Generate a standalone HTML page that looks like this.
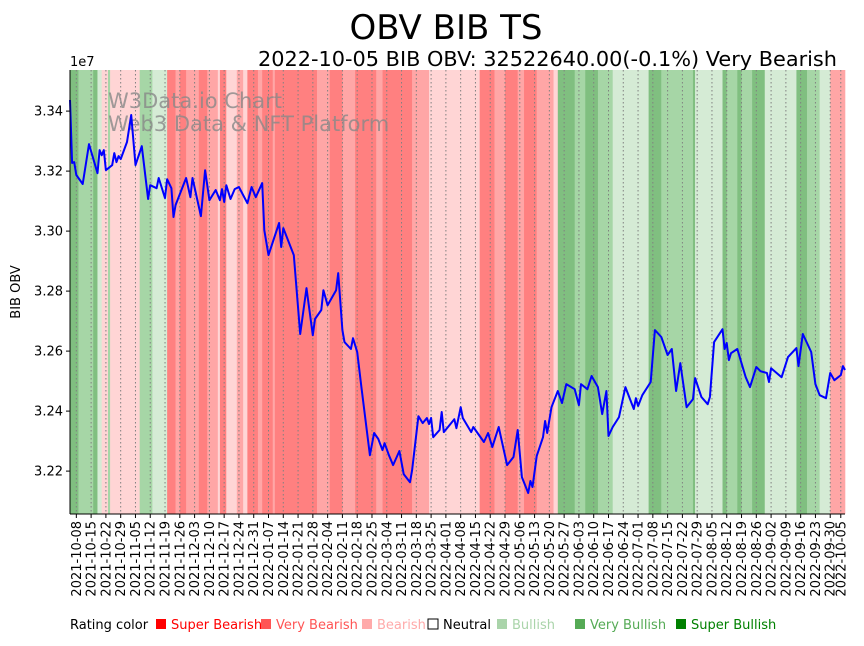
<!DOCTYPE html>
<html><head><meta charset="utf-8">
<style>
body{margin:0;background:#fff;width:864px;height:641px;overflow:hidden;font-family:"Liberation Sans","DejaVu Sans",sans-serif}
svg text{font-family:"DejaVu Sans","Liberation Sans",sans-serif}
</style></head>
<body>
<svg id="chart" width="864" height="641" xmlns="http://www.w3.org/2000/svg">
<text x="446" y="39" font-size="34" text-anchor="middle">OBV BIB TS</text>
<text x="258" y="66" font-size="20" textLength="579" lengthAdjust="spacingAndGlyphs">2022-10-05 BIB OBV: 32522640.00(-0.1%) Very Bearish</text>
<text x="70" y="66" font-size="13">1e7</text>
<text transform="translate(20,292) rotate(-90)" font-size="13" text-anchor="middle">BIB OBV</text>
<g id="bands"></g>
<g id="grid"></g>
<text x="108" y="108" font-size="21" fill="#888" fill-opacity="0.8">W3Data.io Chart</text>
<text x="108" y="131" font-size="21" fill="#888" fill-opacity="0.8">Web3 Data &amp; NFT Platform</text>
<path id="line" fill="none" stroke="#0000ff" stroke-width="2" stroke-linejoin="round"/>
<g id="axes"></g>
<g id="legend">
<text x="70" y="629" font-size="13">Rating color</text>
</g>
</svg>
<script>
const bandStart=[-3,1,8,10,12,15,16,30,36,43,47,49,52,58,62,67,68,71,76,79,81,86,88,93,94,114,120,126,132,142,145,159,167,191,198,203,209,212,218,224,226,228,236,241,247,254,271,277,292,293,306,308,313,315,320,326,341,346,352,357];
const bandRating=['VG','G','VG','LG','LP','G','LP','G','LG','VB','B','VB','B','VB','B','LP','VB','LP','B','LP','VB','B','VB','B','VB','B','VB','B','VB','B','VB','B','LP','VB','B','VB','B','VB','B','B','LP','VG','G','VG','G','LG','VG','G','VG','LG','VG','G','VG','G','VG','LG','VG','G','LG','B'];
const dayIdx=[-3,-2,-1,0,3,6,10,11,12,13,14,17,18,19,20,21,24,26,28,31,34,35,38,39,42,43,45,46,47,52,54,55,59,61,63,66,68,69,70,71,73,75,77,81,83,85,88,89,91,96,97,98,103,106,109,112,113,116,117,119,123,124,126,127,130,131,133,135,139,141,143,145,146,148,150,153,155,158,159,162,164,166,167,168,169,172,173,174,176,179,180,182,183,187,188,193,195,197,200,204,207,209,211,214,215,216,218,221,222,223,225,228,230,232,236,238,239,242,244,247,249,251,252,254,257,260,264,265,266,268,272,274,277,280,282,284,286,289,292,293,296,299,300,302,306,307,308,309,310,313,317,319,322,324,327,328,329,334,337,341,342,344,346,348,350,352,355,357,359,362,363,364];
const obv=[3.3437,3.3227,3.3230,3.3187,3.3157,3.3290,3.3193,3.3270,3.3253,3.3270,3.3203,3.3220,3.3260,3.3230,3.3250,3.3240,3.3297,3.3387,3.3220,3.3283,3.3107,3.3153,3.3143,3.3177,3.3110,3.3173,3.3143,3.3047,3.3087,3.3177,3.3113,3.3177,3.3050,3.3203,3.3103,3.3137,3.3103,3.3140,3.3097,3.3153,3.3107,3.3140,3.3147,3.3093,3.3147,3.3113,3.3160,3.3003,3.2920,3.3027,3.2947,3.3010,3.2920,3.2657,3.2810,3.2653,3.2707,3.2737,3.2803,3.2753,3.2803,3.2860,3.2670,3.2630,3.2607,3.2643,3.2597,3.2480,3.2253,3.2327,3.2307,3.2270,3.2293,3.2253,3.2220,3.2267,3.2190,3.2163,3.2203,3.2383,3.2360,3.2377,3.2357,3.2377,3.2313,3.2337,3.2397,3.2330,3.2347,3.2373,3.2343,3.2413,3.2377,3.2330,3.2347,3.2297,3.2327,3.2280,3.2347,3.2220,3.2247,3.2337,3.2180,3.2127,3.2167,3.2147,3.2250,3.2313,3.2367,3.2327,3.2413,3.2467,3.2427,3.2490,3.2473,3.2420,3.2490,3.2473,3.2517,3.2480,3.2390,3.2467,3.2317,3.2347,3.2380,3.2480,3.2407,3.2443,3.2417,3.2453,3.2497,3.2670,3.2647,3.2587,3.2607,3.2467,3.2560,3.2413,3.2440,3.2510,3.2447,3.2423,3.2447,3.2630,3.2673,3.2607,3.2627,3.2570,3.2593,3.2607,3.2513,3.2480,3.2547,3.2533,3.2527,3.2497,3.2543,3.2513,3.2580,3.2610,3.2550,3.2657,3.2627,3.2597,3.2490,3.2453,3.2443,3.2527,3.2503,3.2520,3.2550,3.2537];
const yTicks=[3.22,3.24,3.26,3.28,3.30,3.32,3.34];
const yTickLabels=['3.22','3.24','3.26','3.28','3.30','3.32','3.34'];
const legendLabels=['Super Bearish','Very Bearish','Bearish','Neutral','Bullish','Very Bullish','Super Bullish'];
const legendColors=['#ff0000','#ff5555','#ffaaaa','#ffffff','#aad4aa','#55aa55','#008000'];

const NS='http://www.w3.org/2000/svg';
const L=70,R=845,T=70,B=514;
const D0=-3,D1=364,V0=3.2057,V1=3.3537;
const xs=d=>L+(d-D0)*(R-L)/(D1-D0);
const ys=v=>B-(v-V0)*(B-T)/(V1-V0);
const bandColor={VB:'#ff8080',B:'#ffa6a6',LP:'#ffd5d5',LG:'#d5ebd5',G:'#a6d6a6',VG:'#80bf80'};
function mk(tag,attrs,parent){const e=document.createElementNS(NS,tag);for(const k in attrs)e.setAttribute(k,attrs[k]);parent.appendChild(e);return e;}

const bands=document.getElementById('bands');
for(let i=0;i<bandStart.length;i++){
  const x0=xs(bandStart[i]),x1=xs(i+1<bandStart.length?bandStart[i+1]:D1);
  const r=mk('rect',{x:x0,y:T,width:x1-x0+0.3,height:B-T,fill:bandColor[bandRating[i]]},bands);
  
  
}
const grid=document.getElementById('grid'),axes=document.getElementById('axes');
const base=new Date(Date.UTC(2021,9,8));
const tickDays=[];for(let d=0;d<=357;d+=7)tickDays.push(d);tickDays.push(362);
function fmt(d){const t=new Date(base.getTime()+d*86400000);return t.toISOString().slice(0,10);}
tickDays.forEach(d=>{
  const x=xs(d);
  const g=mk('line',{x1:x,x2:x,y1:T,y2:B,stroke:'#808080','stroke-width':1,'stroke-dasharray':'1.5,2.5'},grid);
  
  
  mk('line',{x1:x,x2:x,y1:B,y2:B+4,stroke:'#000'},axes);
  const t=mk('text',{transform:`translate(${x+4.5},${B+7}) rotate(-90)`,'font-size':13,'text-anchor':'end'},axes);
  t.textContent=fmt(d);
  
  
});
yTicks.forEach((v,i)=>{
  const y=ys(v);
  mk('line',{x1:L-4,x2:L,y1:y,y2:y,stroke:'#000'},axes);
  const t=mk('text',{x:L-7,y:y+4.5,'font-size':13,'text-anchor':'end'},axes);
  t.textContent=yTickLabels[i];
  
  
});
mk('line',{x1:L,x2:L,y1:T,y2:B,stroke:'#000'},axes);
mk('line',{x1:L,x2:R,y1:B,y2:B,stroke:'#000'},axes);
let p='';dayIdx.forEach((d,i)=>{p+=(i?'L':'M')+xs(d).toFixed(1)+','+ys(obv[i]).toFixed(1);});
document.getElementById('line').setAttribute('d',p);
const lg=document.getElementById('legend');
const lx=[156,261,362,428,497,575,676];
legendLabels.forEach((lab,i)=>{
  const r=mk('rect',{x:lx[i],y:619,width:10,height:10,fill:legendColors[i],stroke:i==3?'#000':'none'},lg);
  
  
  const t=mk('text',{x:lx[i]+15,y:629,'font-size':13,fill:i==3?'#000':legendColors[i]},lg);
  t.textContent=lab;
  
  
});
</script>
</body></html>
